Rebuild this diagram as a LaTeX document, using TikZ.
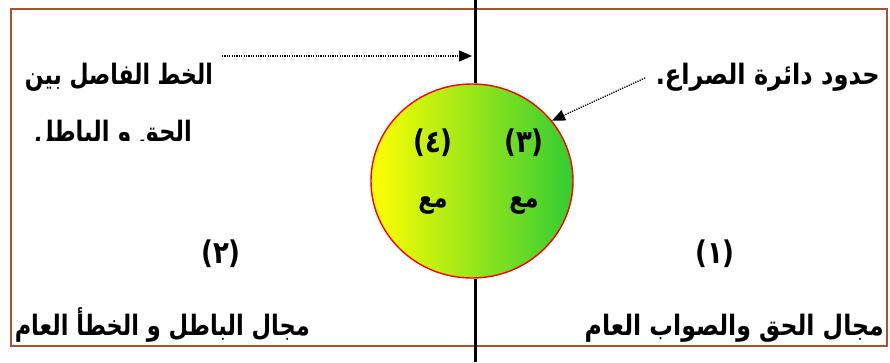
\documentclass[tikz,border=0pt]{standalone}
\usepackage{fontspec}
\usepackage{graphicx}
\newfontfamily\arabicfont[Script=Arabic]{DejaVu Sans}
\TeXXeTstate=1
\usetikzlibrary{shapes.geometric,arrows.meta}
\definecolor{framebrown}{RGB}{168,84,42}
\definecolor{cyellow}{RGB}{255,255,0}
\definecolor{cgreen}{RGB}{50,205,50}
\newcommand{\artxt}[2][1]{\scalebox{#1}[1.25]{\beginR #2\endR}}
\newcommand{\nmtxt}[1]{\scalebox{1}[1.2]{#1}}
\tikzset{
  lbl/.style={font=\arabicfont\bfseries\fontsize{22.5}{26}\selectfont, inner sep=0pt},
  num/.style={font=\arabicfont\bfseries\fontsize{26}{30}\selectfont, inner sep=0pt},
  dotarrow/.style={line width=1.4pt, dash pattern=on 1.2pt off 1.2pt, -{Triangle[length=13pt,width=11pt]}},
  divider/.style={line width=3pt, black}
}
\begin{document}
\begin{tikzpicture}[x=1pt,y=-1pt]
\useasboundingbox (0,0) rectangle (890,362);
% frame
\draw[framebrown, line width=2.2pt] (11,9) rectangle (887,346);
% circle
\node[ellipse, draw=red, line width=1.4pt, left color=cyellow, right color=cgreen,
      minimum width=202pt, minimum height=194pt, inner sep=0pt] (circ) at (472,181) {};
% divider line
\coordinate (ltop) at (475,0);
\coordinate (lbot) at (475,362);
\draw[divider] (ltop) -- (circ.north -| ltop);
\draw[divider] (circ.south -| lbot) -- (lbot);
% labels top
\node[lbl, anchor=base east] (sep1) at (213,84) {\artxt[0.975]{الخط الفاصل بين}};
\begin{scope}
\clip (0,100) rectangle (300,140);
\node[lbl, anchor=base east] (sep2) at (192,141) {\artxt{الحق و الباطل}};
\end{scope}
\node[lbl, anchor=base east] (conf) at (880,84) {\artxt[1.07]{حدود دائرة الصراع.}};
% arrows
\coordinate (a1s) at (222,56);
\coordinate (a1e) at (472,56);
\draw[dotarrow] (a1s) -- (a1e);
\coordinate (a2s) at (645,78);
\draw[dotarrow] (a2s) -- (circ.37);
% numbers in circle
\node[num] (n4) at (433,143) {\nmtxt{(٤)}};
\node[num] (n3) at (524,143) {\nmtxt{(٣)}};
\node[lbl] (m4) at (433,206) {\artxt{مع}};
\node[lbl] (m3) at (524,206) {\artxt{مع}};
% numbers outside
\node[num] (n2) at (221,254) {\nmtxt{(٢)}};
\node[num] (n1) at (715,254) {\nmtxt{(١)}};
% bottom labels
\node[lbl, anchor=base east] (fal) at (310,335) {\artxt{مجال الباطل و الخطأ العام}};
\node[lbl, anchor=base east] (tru) at (884,335) {\artxt[1.05]{مجال الحق والصواب العام}};
\end{tikzpicture}
\end{document}
